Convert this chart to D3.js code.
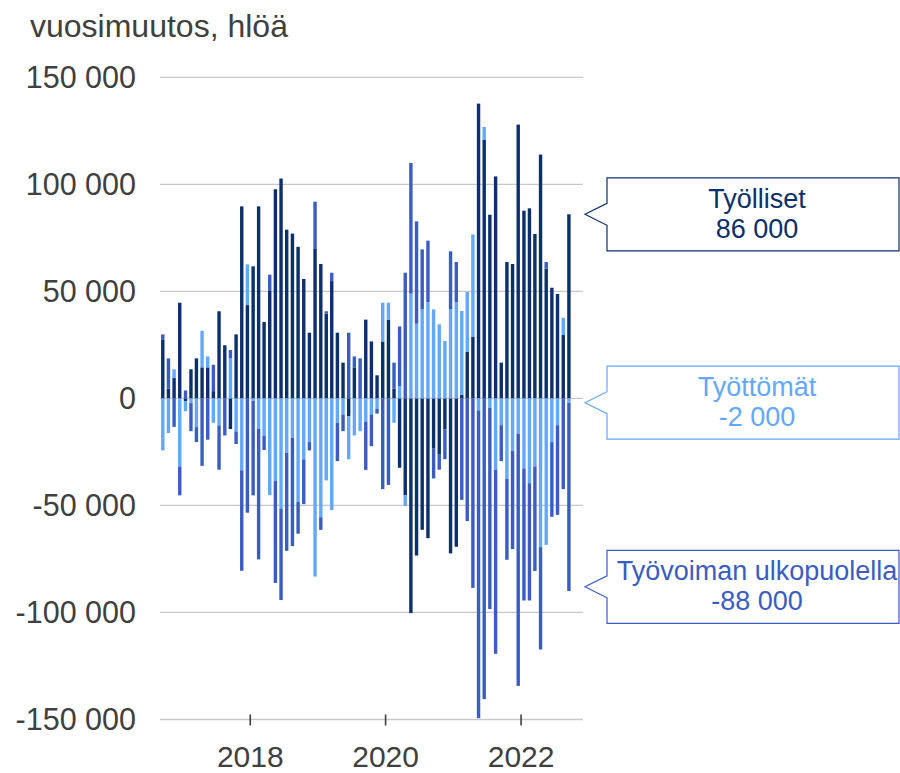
<!DOCTYPE html>
<html>
<head>
<meta charset="utf-8">
<script src="https://cdn.jsdelivr.net/npm/d3@7"></script>
<style>
  body { margin: 0; background: #fff; }
  svg { display: block; font-family: "Liberation Sans", Arial, sans-serif; }
</style>
</head>
<body>
<svg id="chart" width="900" height="773"></svg>
<script>
// monthly year-on-year change, thousands of persons, Sep 2016 .. Sep 2022
var startMonth = new Date(2016, 8, 1);

var tyolliset = [27.6, 4.5, 9.5, 44.7, -1.2, 13.6, 18.7, 14.5, 14.5, 3.4,
  40.7, 24.8, -14.3, 29.9, 89.7, 43.6, 61.7, 89.7, 35.7, 50.5,
  97.7, 102.7, 78.8, 77.0, 70.8, 55.8, 30.7, 69.8, 62.8, 39.6,
  54.8, 30.7, 16.7, -8.3, 14.5, 0, 36.8, 26.6, 10.8, 26.6,
  36.8, 4.5, -32.4, -45.3, -100.3, -73.4, -61.4, -65.3, -23.5, -26.3,
  -14.5, -72.4, -69.3, 1.6, 21.7, 28.7, 137.7, 120.9, 85.8, 103.7,
  16.7, 63.7, 62.8, 127.9, 87.7, 88.8, 76.8, 113.9, 60.6, 51.7,
  48.8, 29.6, 86.0];

var tyottomat = [-24.3, -16.2, 4.1, -31.8, -4.8, -2.2, -13.4, 17.1, 5.1, -11.4,
  -12.6, 0, 18.7, -15.4, -33.6, 19.0, -1.2, -14.3, -17.4, -45.2,
  -38.5, -51.4, -25.4, -18.4, -48.4, -28.5, -20.4, -83.2, -55.5, -38.3,
  -52.2, -11.5, -7.5, -20.1, -17.3, -15.3, -10.8, -7.5, -4.8, 18.1,
  7.9, -11.4, 5.6, -5.0, 48.9, 34.9, 41.6, 45.0, 41.6, 34.6,
  26.8, 41.6, 45.0, 39.2, 28.0, 47.9, -5.6, 5.9, -4.4, -33.3,
  -12.5, -37.5, -24.6, -16.5, -32.7, -39.6, -31.8, -69.5, -68.4, -20.4,
  -12.5, 8.1, -2.0];

var ulkopuolella = [2.3, 14.2, -13.3, -13.5, 3.7, -13.1, -7.0, -31.5, -19.3, 12.3,
  -20.7, -17.3, 3.9, -5.9, -46.9, -53.4, -44.1, -60.9, -6.7, 7.3,
  -47.7, -42.8, -45.8, -50.6, -14.8, -20.9, -3.9, 22.1, -5.9, 1.1,
  3.9, -17.8, -7.8, 30.7, 5.1, 18.7, -22.6, -14.8, -2.3, -42.4,
  -40.4, 12.2, 28.0, 58.7, 61.1, 47.8, 28.0, 28.7, -13.9, -7.0,
  -13.9, 27.1, 18.7, -47.4, -57.3, -88.5, -143.8, -140.5, -94.0, -86.0,
  -16.8, -37.9, -45.8, -117.8, -61.7, -54.8, -48.8, -47.8, 3.1, -34.9,
  -41.9, -42.4, -88.0];

var seriesNames = ["Työlliset", "Työttömät", "Työvoiman ulkopuolella"];
var seriesColors = ["#0c2f6e", "#62a8fb", "#3a5cc4"];
var yTicks = [-150, -100, -50, 0, 50, 100, 150];
var xTicks = [2018, 2020, 2022];
var title = "vuosimuutos, hlöä";

var keys = ["a", "b", "c"];
var rows = tyolliset.map(function (v, i) {
  return { date: d3.timeMonth.offset(startMonth, i), a: v, b: tyottomat[i], c: ulkopuolella[i] };
});

var fmt = d3.formatLocale({ decimal: ",", thousands: " ", grouping: [3], currency: ["", " €"], minus: "-" }).format(",.0f");

var svg = d3.select("#chart");
var left = 160, right = 583;

var x = d3.scaleTime()
  .domain([startMonth, new Date(2022, 11, 1)])
  .range([left, right]);
var y = d3.scaleLinear()
  .domain([-150, 150])
  .range([719.5, 77.3]);

// title
svg.append("text")
  .attr("x", 30).attr("y", 37)
  .attr("font-size", 32).attr("fill", "#404040")
  .text(title);

// gridlines
svg.append("g").selectAll("line")
  .data(yTicks.filter(function (d) { return d > -150; }))
  .enter().append("line")
  .attr("x1", left).attr("x2", right)
  .attr("y1", function (d) { return y(d); })
  .attr("y2", function (d) { return y(d); })
  .attr("stroke", "#c8c8c8")
  .attr("stroke-width", 1.3);

// y labels
svg.append("g").selectAll("text")
  .data(yTicks)
  .enter().append("text")
  .attr("x", 136)
  .attr("y", function (d) { return y(d); })
  .attr("dy", "0.36em")
  .attr("text-anchor", "end")
  .attr("font-size", 30.5)
  .attr("fill", "#404040")
  .text(function (d) { return fmt(d * 1000); });

// bars
var stack = d3.stack().keys(keys).offset(d3.stackOffsetDiverging);
var layers = stack(rows);
var bw = 3.4;

svg.append("g").selectAll("g")
  .data(layers)
  .enter().append("g")
  .attr("fill", function (d, i) { return seriesColors[i]; })
  .selectAll("rect")
  .data(function (d) { return d; })
  .enter().append("rect")
  .attr("x", function (d) {
    var x0 = x(d.data.date), x1 = x(d3.timeMonth.offset(d.data.date, 1));
    return (x0 + x1) / 2 - bw / 2;
  })
  .attr("y", function (d) { return y(Math.max(d[0], d[1])); })
  .attr("width", bw)
  .attr("height", function (d) { return Math.abs(y(d[0]) - y(d[1])); });

// x axis
var xAxis = svg.append("g").attr("transform", "translate(0," + y(-150) + ")");
xAxis.append("line")
  .attr("x1", left).attr("x2", right)
  .attr("stroke", "#c8c8c8").attr("stroke-width", 1.3);
var xt = xAxis.selectAll(".tick")
  .data(xTicks)
  .enter().append("g")
  .attr("transform", function (d) { return "translate(" + x(new Date(d, 0, 1)) + ",0)"; });
xt.append("line")
  .attr("y1", -5).attr("y2", 6)
  .attr("stroke", "#404040").attr("stroke-width", 1.6);
xt.append("text")
  .attr("y", 47)
  .attr("text-anchor", "middle")
  .attr("font-size", 30)
  .attr("fill", "#404040")
  .text(function (d) { return d; });

// callouts for the latest month
var last = rows.length - 1;
var lastVals = [tyolliset[last], tyottomat[last], ulkopuolella[last]];
var bx0 = 607, bx1 = 899, tipX = 585, bh = 73;

var callouts = svg.append("g").selectAll("g")
  .data(seriesNames)
  .enter().append("g");

callouts.append("path")
  .attr("d", function (d, i) {
    var ty = y(lastVals[i]), t = ty - bh / 2, b = ty + bh / 2;
    return "M" + bx0 + "," + t + "L" + bx1 + "," + t + "L" + bx1 + "," + b +
      "L" + bx0 + "," + b + "L" + bx0 + "," + (ty + 11) + "L" + tipX + "," + ty +
      "L" + bx0 + "," + (ty - 11) + "Z";
  })
  .attr("fill", "#fff")
  .attr("stroke", function (d, i) { return seriesColors[i]; })
  .attr("stroke-width", 1.2);

callouts.append("text")
  .attr("x", 757)
  .attr("y", function (d, i) { return y(lastVals[i]) - 6.5; })
  .attr("text-anchor", "middle")
  .attr("font-size", 27)
  .attr("fill", function (d, i) { return seriesColors[i]; })
  .text(function (d) { return d; });

callouts.append("text")
  .attr("x", 757)
  .attr("y", function (d, i) { return y(lastVals[i]) + 23.5; })
  .attr("text-anchor", "middle")
  .attr("font-size", 27)
  .attr("fill", function (d, i) { return seriesColors[i]; })
  .text(function (d, i) { return fmt(lastVals[i] * 1000); });
</script>
</body>
</html>
